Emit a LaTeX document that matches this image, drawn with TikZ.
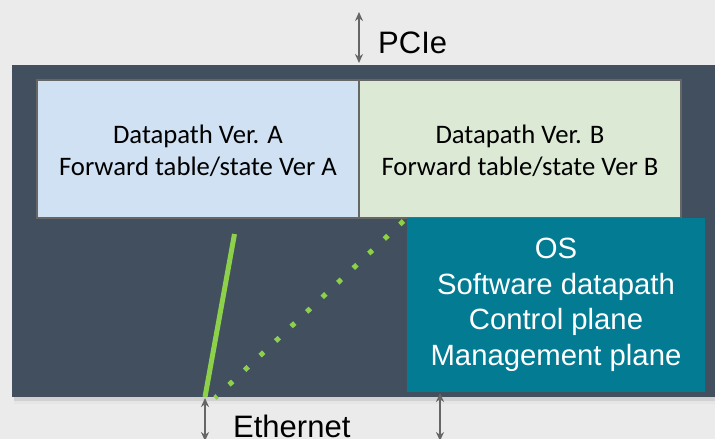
\documentclass[tikz,border=0pt]{standalone}
\usepackage{fontspec}
\setmainfont{Liberation Sans}
\newfontfamily\calib{Carlito}
\usetikzlibrary{arrows.meta}
\definecolor{bgc}{HTML}{EBEBEB}
\definecolor{board}{HTML}{414F5F}
\definecolor{boxa}{HTML}{CFE1F3}
\definecolor{boxb}{HTML}{DCE9D5}
\definecolor{osc}{HTML}{027B93}
\definecolor{lgreen}{HTML}{8DD04A}
\definecolor{arrg}{HTML}{666666}
\tikzset{
  dptext/.style={align=center, font=\calib\fontsize{26.7}{32}\selectfont, text=black, inner sep=0pt},
  biarrow/.style={arrg, line width=1.5pt, {Stealth[length=9pt,width=8pt]}-{Stealth[length=9pt,width=8pt]}},
  lbl/.style={font=\fontsize{31}{36}\selectfont, text=black, inner sep=0pt},
}
\begin{document}
\begin{tikzpicture}[x=1pt,y=-1pt]
\useasboundingbox (0,0) rectangle (715,439);
\fill[bgc] (0,0) rectangle (715,439);
% shadow
\fill[black!18] (14,397) rectangle (715,401);
\fill[black!10] (14,401) rectangle (715,404);
% board
\fill[board] (12,65) rectangle (715,397);
% datapath boxes
\fill[boxa] (37,80) rectangle (359,218);
\fill[boxb] (359,80) rectangle (681,218);
\draw[arrg, line width=1.5pt] (37,80) rectangle (681,218);
\draw[arrg, line width=1.5pt] (359,80) -- (359,218);
\node[dptext] (dpa) at (198,151) {Datapath Ver. A\\Forward table/state Ver A};
\node[dptext] (dpb) at (520,151) {Datapath Ver. B\\Forward table/state Ver B};
% OS box
\fill[osc] (407,218) rectangle (705,392);
\node[align=center, text=white, font=\fontsize{29.3}{35.5}\selectfont, inner sep=0pt] (os) at (556,305) {OS\\Software datapath\\Control plane\\Management plane};
% green lines
\coordinate (g1) at (234.5,234);
\coordinate (g2) at (205,397);
\draw[lgreen, line width=5pt] (g1) -- (g2);
\coordinate (d1) at (403.5,221);
\coordinate (d2) at (215,398);
\draw[lgreen, line width=5pt, dash pattern=on 5pt off 16.3pt] (d1) -- (d2);
% arrows
\coordinate (p1) at (359,12);
\coordinate (p2) at (359,63);
\draw[biarrow] (p1) -- (p2);
\node[lbl, anchor=base west] (pcie) at (378,53) {PCIe};
\coordinate (e1) at (205,398);
\coordinate (e2) at (205,441);
\draw[biarrow] (e1) -- (e2);
\coordinate (f1) at (440,393);
\coordinate (f2) at (440,441);
\draw[biarrow] (f1) -- (f2);
\node[lbl, anchor=base west] (eth) at (233,437) {Ethernet};
\end{tikzpicture}
\end{document}
